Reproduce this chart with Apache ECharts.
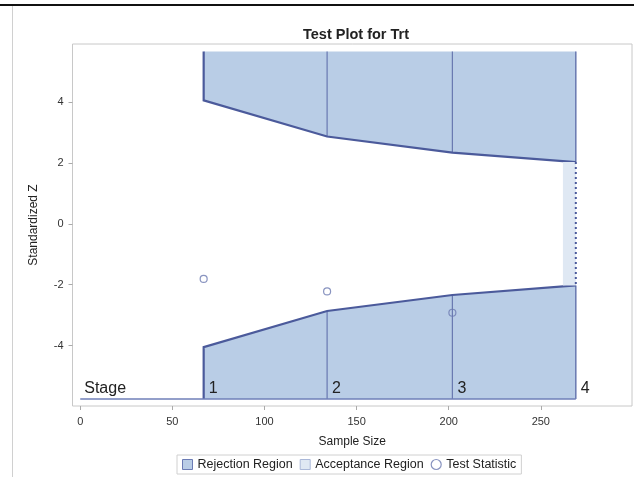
<!DOCTYPE html>
<html>
<head>
<meta charset="utf-8">
<script src="https://cdn.jsdelivr.net/npm/echarts@6/dist/echarts.min.js"></script>
<style>
html,body{margin:0;padding:0;background:#fff;}
#chart{width:634px;height:477px;}
</style>
</head>
<body>
<div id="chart"></div>
<script>
// ---- data ----
const stageN = [67, 134, 202, 269];
const stageLabels = ['1', '2', '3', '4'];
const upperBound = [4.049, 2.863, 2.337, 2.024];
const lowerBound = [-4.049, -2.863, -2.337, -2.024];
const testStatN = [67, 134, 202];
const testStat = [-1.81, -2.22, -2.92];
const acceptN = [262, 269];
const regionTop = 5.65;
const regionBottom = -5.75;
const xTicks = [0, 50, 100, 150, 200, 250];
const yTicks = [-4, -2, 0, 2, 4];

const FILL = '#b9cde6';
const ACC = '#dfe8f3';
const EDGE = '#4b5a9b';
const INNER = '#6878b0';
const FONT = '"Liberation Sans", Arial, sans-serif';

const chart = echarts.init(document.getElementById('chart'), null, {renderer: 'canvas'});

function regionItem(params, api) {
  const c = (x, y) => api.coord([x, y]);
  const children = [];
  const up = [c(stageN[0], regionTop)];
  stageN.forEach((n, i) => up.push(c(n, upperBound[i])));
  up.push(c(stageN[stageN.length - 1], regionTop));
  const lo = [c(stageN[0], regionBottom)];
  stageN.forEach((n, i) => lo.push(c(n, lowerBound[i])));
  lo.push(c(stageN[stageN.length - 1], regionBottom));
  children.push({type: 'polygon', shape: {points: up}, style: {fill: FILL}});
  children.push({type: 'polygon', shape: {points: lo}, style: {fill: FILL}});
  for (let i = 1; i < stageN.length - 1; i++) {
    const a = c(stageN[i], upperBound[i]), b = c(stageN[i], regionTop);
    const d = c(stageN[i], lowerBound[i]), e = c(stageN[i], regionBottom);
    children.push({type: 'line', shape: {x1: a[0], y1: a[1], x2: b[0], y2: b[1]}, style: {stroke: INNER, lineWidth: 1.2}});
    children.push({type: 'line', shape: {x1: d[0], y1: d[1], x2: e[0], y2: e[1]}, style: {stroke: INNER, lineWidth: 1.2}});
  }
  const last = stageN.length - 1;
  const a = c(stageN[last], upperBound[last]), b = c(stageN[last], regionTop);
  const d = c(stageN[last], lowerBound[last]), e = c(stageN[last], regionBottom);
  children.push({type: 'line', shape: {x1: a[0], y1: a[1], x2: b[0], y2: b[1]}, style: {stroke: INNER, lineWidth: 1.5}});
  children.push({type: 'line', shape: {x1: d[0], y1: d[1], x2: e[0], y2: e[1]}, style: {stroke: INNER, lineWidth: 1.5}});
  children.push({type: 'polyline', shape: {points: up.slice(0, up.length - 1)}, style: {stroke: EDGE, lineWidth: 2.2, fill: null}});
  children.push({type: 'polyline', shape: {points: lo.slice(0, lo.length - 1)}, style: {stroke: EDGE, lineWidth: 2.2, fill: null}});
  return {type: 'group', children: children};
}

function acceptItem(params, api) {
  const p1 = api.coord([acceptN[0], upperBound[upperBound.length - 1]]);
  const p2 = api.coord([acceptN[1], lowerBound[lowerBound.length - 1]]);
  return {type: 'group', children: [
    {type: 'rect', shape: {x: p1[0], y: p1[1], width: p2[0] - p1[0], height: p2[1] - p1[1]}, style: {fill: ACC}},
    {type: 'line', shape: {x1: p2[0], y1: p1[1], x2: p2[0], y2: p2[1]}, style: {stroke: EDGE, lineWidth: 2, lineDash: [2, 3]}}
  ]};
}

function stageItem(params, api) {
  const a = api.coord([0, regionBottom]);
  const b = api.coord([stageN[stageN.length - 1], regionBottom]);
  const children = [
    {type: 'line', shape: {x1: a[0], y1: a[1], x2: b[0], y2: b[1]}, style: {stroke: '#6f7fb8', lineWidth: 1.5}},
    {type: 'text', x: a[0] + 4, y: a[1] - 2, style: {text: 'Stage', font: '16px ' + FONT, fill: '#222', textAlign: 'left', textVerticalAlign: 'bottom'}}
  ];
  stageN.forEach((n, i) => {
    const p = api.coord([n, regionBottom]);
    children.push({type: 'text', x: p[0] + 5, y: p[1] - 2, style: {text: stageLabels[i], font: '16px ' + FONT, fill: '#222', textAlign: 'left', textVerticalAlign: 'bottom'}});
  });
  return {type: 'group', children: children};
}

const option = {
  backgroundColor: '#fff',
  animation: false,
  title: {
    text: 'Test Plot for Trt',
    left: 351, top: 22, textAlign: 'center',
    textStyle: {fontFamily: FONT, fontSize: 14.5, fontWeight: 'bold', color: '#222'}
  },
  graphic: [
    {type: 'line', shape: {x1: 0, y1: 5, x2: 634, y2: 5}, style: {stroke: '#111', lineWidth: 2}},
    {type: 'line', shape: {x1: 12.5, y1: 6, x2: 12.5, y2: 477}, style: {stroke: '#d0d0d0', lineWidth: 1}}
  ],
  legend: {
    left: 177, top: 455,
    itemWidth: 10, itemHeight: 10, itemGap: 7,
    borderColor: '#d0d0d0', borderWidth: 1, padding: [3, 5],
    textStyle: {fontFamily: FONT, fontSize: 12.5, color: '#222'},
    data: [
      {name: 'Rejection Region', icon: 'rect', itemStyle: {color: FILL, borderColor: '#6b7bb4', borderWidth: 1}},
      {name: 'Acceptance Region', icon: 'rect', itemStyle: {color: ACC, borderColor: '#aab8d8', borderWidth: 1}},
      {name: 'Test Statistic', icon: 'circle', itemStyle: {color: '#fff', borderColor: '#6b79b0', borderWidth: 1.2}}
    ]
  },
  grid: {
    left: 72.5, right: 2, top: 44, bottom: 71,
    show: true, borderColor: '#c8c8c8', borderWidth: 1, backgroundColor: '#fff'
  },
  xAxis: {
    type: 'value', min: -4.2, max: 299.5,
    name: 'Sample Size', nameLocation: 'middle', nameGap: 30,
    nameTextStyle: {fontFamily: FONT, fontSize: 12, color: '#222'},
    axisLine: {show: false, onZero: false},
    axisTick: {show: true, customValues: xTicks, length: 4, lineStyle: {color: '#aaa'}},
    axisLabel: {customValues: xTicks, margin: 10, fontFamily: FONT, fontSize: 11, color: '#333'},
    splitLine: {show: false}
  },
  yAxis: {
    type: 'value', min: -5.98, max: 5.9,
    name: 'Standardized Z', nameLocation: 'middle', nameGap: 33,
    nameTextStyle: {fontFamily: FONT, fontSize: 12, color: '#222'},
    axisLine: {show: false, onZero: false},
    axisTick: {show: true, customValues: yTicks, length: 4, lineStyle: {color: '#aaa'}},
    axisLabel: {customValues: yTicks, margin: 9, fontFamily: FONT, fontSize: 11, color: '#333'},
    splitLine: {show: false}
  },
  series: [
    {name: 'Rejection Region', type: 'custom', renderItem: regionItem, data: [[0, 0]], itemStyle: {color: FILL}, z: 2},
    {name: 'Acceptance Region', type: 'custom', renderItem: acceptItem, data: [[0, 0]], itemStyle: {color: ACC}, z: 2},
    {name: 'Stage', type: 'custom', renderItem: stageItem, data: [[0, 0]], z: 3},
    {name: 'Test Statistic', type: 'scatter', symbol: 'circle', symbolSize: 7,
      itemStyle: {color: 'rgba(255,255,255,0)', borderColor: '#6b79b0', borderWidth: 1.2},
      data: testStatN.map((n, i) => [n, testStat[i]]), z: 4}
  ]
};
chart.setOption(option);
</script>
</body>
</html>
